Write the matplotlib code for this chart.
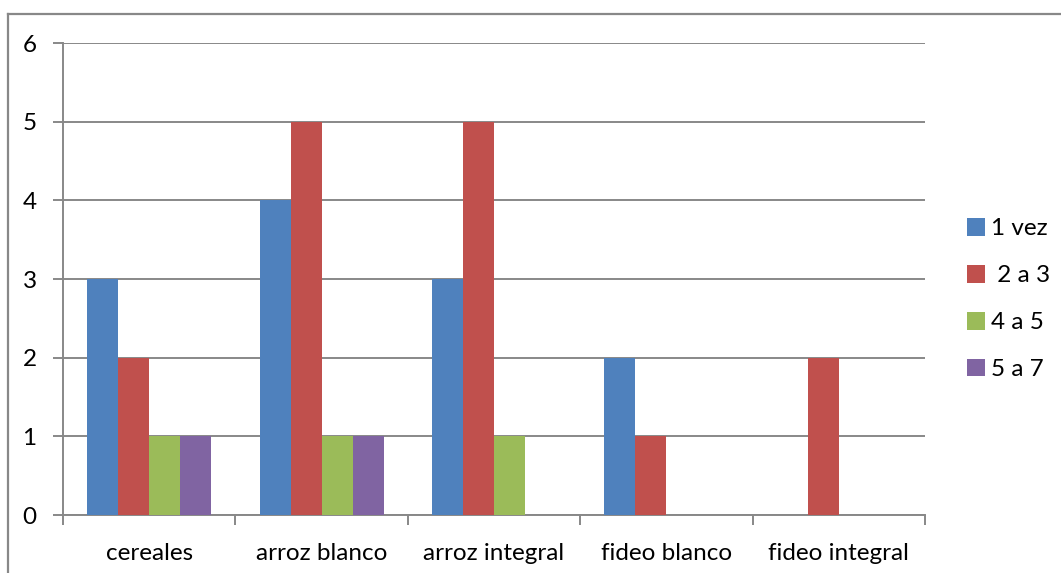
import matplotlib
matplotlib.use("Agg")
import matplotlib.pyplot as plt
from matplotlib.patches import Patch
from matplotlib.lines import Line2D
import numpy as np

categories = ["cereales", "arroz blanco", "arroz integral", "fideo blanco", "fideo integral"]
series_names = ["1 vez", " 2 a 3", "4 a 5", "5 a 7"]
una_vez = [3, 4, 3, 2, 0]
dos_a_tres = [2, 5, 5, 1, 2]
cuatro_a_cinco = [1, 1, 1, 0, 0]
cinco_a_siete = [1, 1, 0, 0, 0]
y_ticks = [0, 1, 2, 3, 4, 5, 6]

series = [una_vez, dos_a_tres, cuatro_a_cinco, cinco_a_siete]
colors = ["#4F81BD", "#C0504D", "#9BBB59", "#8064A2"]
grid_color = "#888888"
font = "Lato"
fsize = 17.5

fig = plt.figure(figsize=(10.61, 5.73), dpi=100)
ax = fig.add_axes([63 / 1061, 1 - 515 / 573, (925 - 63) / 1061, (515 - 43) / 573])

x = np.arange(len(categories))
w = 0.18
for k, (vals, col) in enumerate(zip(series, colors)):
    ax.bar(x + (k - 1.5) * w, vals, width=w, color=col, edgecolor="none",
           linewidth=0, zorder=3)

ax.set_xlim(-0.5, len(categories) - 0.5)
ax.set_ylim(0, 6)
ax.set_yticks(y_ticks)
ax.set_yticklabels([str(v) for v in y_ticks], fontfamily=font, fontsize=fsize)
ax.yaxis.grid(True, color=grid_color, linewidth=1.4, zorder=0)
ax.set_axisbelow(True)

# category separators as major ticks, labels on minor ticks
ax.set_xticks(np.arange(-0.5, len(categories)))
ax.set_xticklabels([])
ax.set_xticks(x, minor=True)
ax.set_xticklabels(categories, minor=True, fontfamily=font, fontsize=fsize)
ax.tick_params(axis="x", which="minor", length=0, pad=20)
ax.tick_params(axis="x", which="major", length=7, width=1.4, color=grid_color,
               direction="out")
ax.tick_params(axis="y", length=7, width=1.4, color=grid_color, pad=12)

for side in ("top", "right"):
    ax.spines[side].set_visible(False)
for side in ("left", "bottom"):
    ax.spines[side].set_color(grid_color)
    ax.spines[side].set_linewidth(1.4)

handles = [Patch(facecolor=c, edgecolor="none") for c in colors]
fig.legend(handles, series_names, loc="center left",
           bbox_to_anchor=(945 / 1061, 1 - 299 / 573), frameon=False,
           prop={"family": font, "size": fsize}, handlelength=0.75, handleheight=0.75,
           handletextpad=0.25, labelspacing=1.05)

# outer chart border
fig.add_artist(Line2D([8 / 1061, 1.0], [1 - 14 / 573, 1 - 14 / 573],
                      transform=fig.transFigure, color=grid_color, linewidth=1.6))
fig.add_artist(Line2D([8 / 1061, 8 / 1061], [0.0, 1 - 14 / 573],
                      transform=fig.transFigure, color=grid_color, linewidth=1.6))

fig.savefig("out.png", dpi=100)
